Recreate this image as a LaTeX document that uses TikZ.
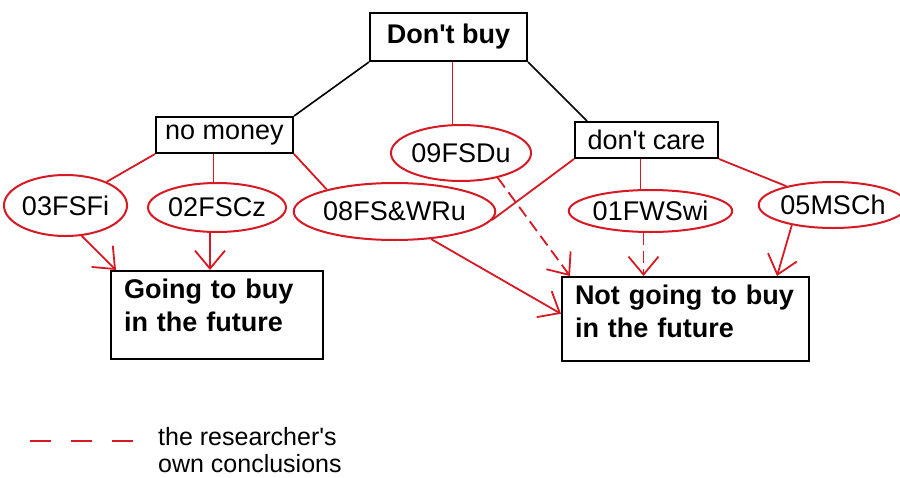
\documentclass[tikz,border=0pt]{standalone}
\usepackage{fontspec}
\setmainfont{Liberation Sans}
\usetikzlibrary{shapes.geometric,arrows.meta}
\definecolor{penred}{RGB}{215,25,35}

\begin{document}
\begin{tikzpicture}[
    x=1pt, y=-1pt,
    font=\fontsize{27}{33}\selectfont,
    reason/.style={draw=black, line width=2pt, rectangle, inner sep=0pt},
    outcome/.style={draw=black, line width=2pt, rectangle, align=left, font=\fontsize{27}{33}\selectfont\bfseries, anchor=north west, inner xsep=13pt, inner ysep=8pt},
    case/.style={draw=penred, line width=2pt, ellipse, inner sep=0pt},
    tie/.style={draw=black, line width=1.6pt},
    redtie/.style={draw=penred, line width=1.8pt},
    leads/.style={redtie, -{Straight Barb[length=18pt,width=30pt]}},
    guess/.style={leads, dash pattern=on 12pt off 6pt}
]
\useasboundingbox (0,0) rectangle (900,477);

% reasons
\node[reason, minimum width=157pt, minimum height=48pt, font=\fontsize{27}{33}\selectfont\bfseries] (b_dontbuy) at (448.5,37) {Don\textquotesingle t buy};
\node[reason, minimum width=137pt, minimum height=36pt] (b_nomoney) at (224.5,135) {no money};
\node[reason, minimum width=143pt, minimum height=36pt] (b_dontcare) at (646.5,140) {don\textquotesingle t care};

% respondents
\node[case, minimum width=107pt, minimum height=61pt] (c_03fsfi) at (65.5,205.5) {03FSFi};
\node[case, minimum width=122pt, minimum height=49pt] (c_02fscz) at (217,207.5) {02FSCz};
\node[case, minimum width=185pt, minimum height=57pt] (c_08fswru) at (394.5,211.5) {08FS\&WRu};
\node[case, minimum width=114pt, minimum height=56pt] (c_09fsdu) at (461,153) {09FSDu};
\node[case, minimum width=155pt, minimum height=42pt] (c_01fwswi) at (650.5,211) {01FWSwi};
\node[case, minimum width=130pt, minimum height=46pt] (c_05msch) at (833,205) {05MSCh};

% outcomes
\node[outcome, text width=186pt, text depth=52pt] (o_going) at (110,270) {Going to buy\\in the future};
\node[outcome, text width=221pt, text depth=48pt] (o_notgoing) at (561,276) {Not going to buy\\in the future};

% tree
\draw[tie] (b_dontbuy.south west) -- (b_nomoney.north east);
\draw[tie] (b_dontbuy.south east) -- ([xshift=13pt]b_dontcare.north west);
\draw[redtie] ([xshift=4pt]b_dontbuy.south) -- ([xshift=4pt]b_dontbuy.south |- c_09fsdu.north);
\draw[redtie] (b_nomoney.south west) -- (c_03fsfi);
\draw[redtie] ([xshift=-11pt]b_nomoney.south) -- ([xshift=-11pt]b_nomoney.south |- c_02fscz.north);
\draw[redtie] (b_nomoney.south east) -- (c_08fswru.162);
\draw[redtie] (b_dontcare.south west) -- (c_08fswru.-5);
\draw[redtie] ([xshift=-6pt]b_dontcare.south) -- ([xshift=-6pt]b_dontcare.south |- c_01fwswi.north);
\draw[redtie] (b_dontcare.south east) -- (c_05msch);

% arrows to outcomes
\draw[leads] (c_03fsfi.-62) -- ([xshift=6pt]o_going.north west);
\draw[leads] ([xshift=-7pt]c_02fscz.south) -- ([xshift=-7pt]c_02fscz.south |- o_going.north);
\draw[leads] (c_08fswru.-37) -- ([yshift=5pt]o_notgoing.west);
\draw[guess] (c_09fsdu.-34) -- ([xshift=9pt]o_notgoing.north west);
\draw[guess] ([xshift=-7pt]c_01fwswi.south) -- ([xshift=-7pt]c_01fwswi.south |- o_notgoing.north);
\draw[leads] (c_05msch.206) -- ([xshift=-33pt]o_notgoing.north east);

% legend
\coordinate (l_from) at (30,441);
\coordinate (l_to) at (137,441);
\draw[redtie, line width=2.2pt, dash pattern=on 21pt off 20pt] (l_from) -- (l_to);
\node[anchor=north west, align=left, inner sep=0pt, font=\fontsize{25}{27}\selectfont] (l_text) at (158,427) {the researcher\textquotesingle s\\own conclusions};

\end{tikzpicture}
\end{document}
